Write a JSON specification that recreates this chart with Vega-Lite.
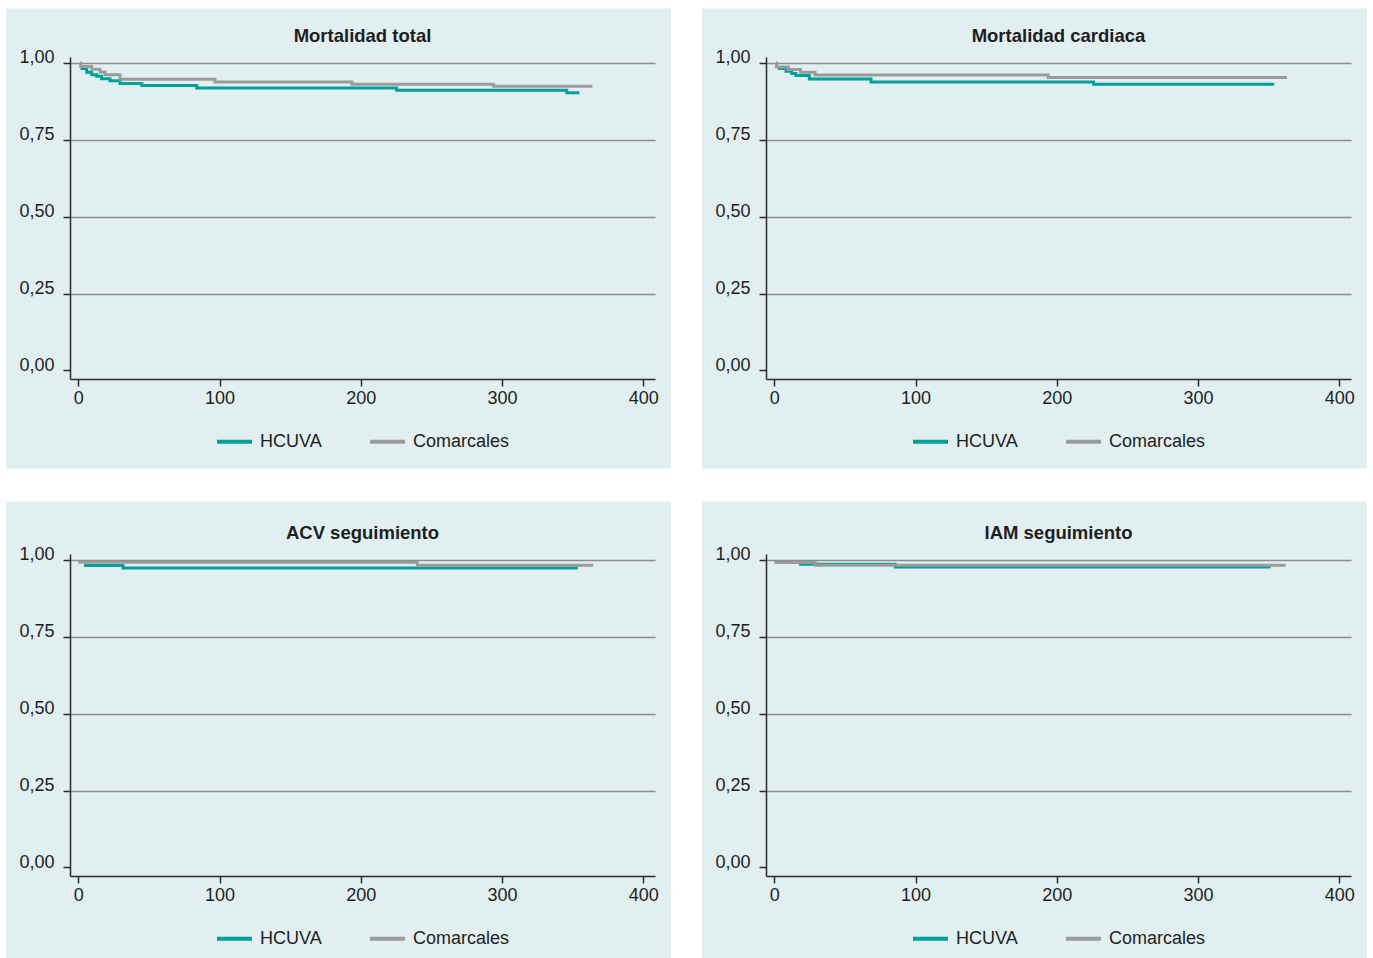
{
  "$schema": "https://vega.github.io/schema/vega-lite/v6.json",
  "background": "white",
  "padding": {"left": 6, "top": 8, "right": 6, "bottom": 0},
  "columns": 2,
  "spacing": {"row": 32, "column": 31},
  "resolve": {"scale": {"color": "independent"}, "legend": {"color": "independent"}},
  "concat": [
    {
      "width": 585, "height": 322,
      "title": {"text": "Mortalidad total", "frame": "group", "offset": -36.7},
      "layer": [
        {"data": {"values": [{}]}, "mark": {"type": "rect", "color": "#e1eff0"},
         "encoding": {"x": {"datum": -51.2, "type": "quantitative", "title": null}, "x2": {"datum": 419.6}, "y": {"datum": 1.1776, "type": "quantitative", "title": null}, "y2": {"datum": -0.319}}},
        {"data": {"values": [
          {"group": "HCUVA", "t": 1.5, "s": 0.982}, {"group": "HCUVA", "t": 5.9, "s": 0.970}, {"group": "HCUVA", "t": 9.5, "s": 0.962}, {"group": "HCUVA", "t": 13, "s": 0.957}, {"group": "HCUVA", "t": 16.5, "s": 0.949}, {"group": "HCUVA", "t": 22.4, "s": 0.942}, {"group": "HCUVA", "t": 29.5, "s": 0.933}, {"group": "HCUVA", "t": 44.9, "s": 0.927}, {"group": "HCUVA", "t": 83.8, "s": 0.919}, {"group": "HCUVA", "t": 225.4, "s": 0.911}, {"group": "HCUVA", "t": 345.8, "s": 0.903}, {"group": "HCUVA", "t": 354.7, "s": 0.903},
          {"group": "Comarcales", "t": 1.2, "s": 1.0}, {"group": "Comarcales", "t": 1.7, "s": 0.989}, {"group": "Comarcales", "t": 9.5, "s": 0.980}, {"group": "Comarcales", "t": 15.4, "s": 0.971}, {"group": "Comarcales", "t": 18.9, "s": 0.962}, {"group": "Comarcales", "t": 29.5, "s": 0.947}, {"group": "Comarcales", "t": 96.8, "s": 0.938}, {"group": "Comarcales", "t": 193.7, "s": 0.931}, {"group": "Comarcales", "t": 294, "s": 0.924}, {"group": "Comarcales", "t": 364, "s": 0.924}
        ]},
         "mark": {"type": "line", "interpolate": "step-after", "strokeWidth": 3},
         "encoding": {
           "x": {"field": "t", "type": "quantitative", "scale": {"domain": [-5.9, 408.3], "nice": false, "zero": false},
                 "axis": {"values": [0, 100, 200, 300, 400], "grid": false, "title": null, "labelFlush": false, "labelPadding": 3, "zindex": 1}},
           "y": {"field": "s", "type": "quantitative", "scale": {"domain": [-0.028, 1.0195], "nice": false, "zero": false},
                 "axis": {"values": [0, 0.25, 0.5, 0.75, 1], "grid": true, "title": null, "zindex": 1, "labelExpr": "replace(format(datum.value, '.2f'), '.', ',')", "labelBaseline": "alphabetic", "labelPadding": 9, "gridOpacity": {"condition": {"test": "datum.value === 0", "value": 0}, "value": 1}}},
           "color": {"field": "group", "type": "nominal", "scale": {"domain": ["HCUVA", "Comarcales"], "range": ["#00a19b", "#9b9b9b"]}, "legend": {"title": null}}
         }}
      ]
    },
    {
      "width": 585, "height": 322,
      "title": {"text": "Mortalidad cardiaca", "frame": "group", "offset": -36.7},
      "layer": [
        {"data": {"values": [{}]}, "mark": {"type": "rect", "color": "#e1eff0"},
         "encoding": {"x": {"datum": -51.2, "type": "quantitative", "title": null}, "x2": {"datum": 419.6}, "y": {"datum": 1.1776, "type": "quantitative", "title": null}, "y2": {"datum": -0.319}}},
        {"data": {"values": [
          {"group": "HCUVA", "t": 2.5, "s": 0.982}, {"group": "HCUVA", "t": 8.3, "s": 0.973}, {"group": "HCUVA", "t": 12.3, "s": 0.966}, {"group": "HCUVA", "t": 15.3, "s": 0.959}, {"group": "HCUVA", "t": 24.8, "s": 0.948}, {"group": "HCUVA", "t": 68.5, "s": 0.938}, {"group": "HCUVA", "t": 226, "s": 0.931}, {"group": "HCUVA", "t": 354, "s": 0.931},
          {"group": "Comarcales", "t": 1.2, "s": 1.0}, {"group": "Comarcales", "t": 1.5, "s": 0.987}, {"group": "Comarcales", "t": 9.9, "s": 0.979}, {"group": "Comarcales", "t": 18.6, "s": 0.970}, {"group": "Comarcales", "t": 28.8, "s": 0.961}, {"group": "Comarcales", "t": 194, "s": 0.953}, {"group": "Comarcales", "t": 363, "s": 0.953}
        ]},
         "mark": {"type": "line", "interpolate": "step-after", "strokeWidth": 3},
         "encoding": {
           "x": {"field": "t", "type": "quantitative", "scale": {"domain": [-5.9, 408.3], "nice": false, "zero": false},
                 "axis": {"values": [0, 100, 200, 300, 400], "grid": false, "title": null, "labelFlush": false, "labelPadding": 3, "zindex": 1}},
           "y": {"field": "s", "type": "quantitative", "scale": {"domain": [-0.028, 1.0195], "nice": false, "zero": false},
                 "axis": {"values": [0, 0.25, 0.5, 0.75, 1], "grid": true, "title": null, "zindex": 1, "labelExpr": "replace(format(datum.value, '.2f'), '.', ',')", "labelBaseline": "alphabetic", "labelPadding": 9, "gridOpacity": {"condition": {"test": "datum.value === 0", "value": 0}, "value": 1}}},
           "color": {"field": "group", "type": "nominal", "scale": {"domain": ["HCUVA", "Comarcales"], "range": ["#00a19b", "#9b9b9b"]}, "legend": {"title": null}}
         }}
      ]
    },
    {
      "width": 585, "height": 322,
      "title": {"text": "ACV seguimiento", "frame": "group", "offset": -40.7},
      "layer": [
        {"data": {"values": [{}]}, "mark": {"type": "rect", "color": "#e1eff0"},
         "encoding": {"x": {"datum": -51.2, "type": "quantitative", "title": null}, "x2": {"datum": 419.6}, "y": {"datum": 1.1906, "type": "quantitative", "title": null}, "y2": {"datum": -0.319}}},
        {"data": {"values": [
          {"group": "HCUVA", "t": 4, "s": 0.982}, {"group": "HCUVA", "t": 31.6, "s": 0.974}, {"group": "HCUVA", "t": 353.6, "s": 0.974},
          {"group": "Comarcales", "t": 0, "s": 0.993}, {"group": "Comarcales", "t": 240, "s": 0.983}, {"group": "Comarcales", "t": 364.5, "s": 0.983}
        ]},
         "mark": {"type": "line", "interpolate": "step-after", "strokeWidth": 3},
         "encoding": {
           "x": {"field": "t", "type": "quantitative", "scale": {"domain": [-5.9, 408.3], "nice": false, "zero": false},
                 "axis": {"values": [0, 100, 200, 300, 400], "grid": false, "title": null, "labelFlush": false, "labelPadding": 3, "zindex": 1}},
           "y": {"field": "s", "type": "quantitative", "scale": {"domain": [-0.028, 1.0195], "nice": false, "zero": false},
                 "axis": {"values": [0, 0.25, 0.5, 0.75, 1], "grid": true, "title": null, "zindex": 1, "labelExpr": "replace(format(datum.value, '.2f'), '.', ',')", "labelBaseline": "alphabetic", "labelPadding": 9, "gridOpacity": {"condition": {"test": "datum.value === 0", "value": 0}, "value": 1}}},
           "color": {"field": "group", "type": "nominal", "scale": {"domain": ["HCUVA", "Comarcales"], "range": ["#00a19b", "#9b9b9b"]}, "legend": {"title": null}}
         }}
      ]
    },
    {
      "width": 585, "height": 322,
      "title": {"text": "IAM seguimiento", "frame": "group", "offset": -40.7},
      "layer": [
        {"data": {"values": [{}]}, "mark": {"type": "rect", "color": "#e1eff0"},
         "encoding": {"x": {"datum": -51.2, "type": "quantitative", "title": null}, "x2": {"datum": 419.6}, "y": {"datum": 1.1906, "type": "quantitative", "title": null}, "y2": {"datum": -0.319}}},
        {"data": {"values": [
          {"group": "HCUVA", "t": 17.4, "s": 0.986}, {"group": "HCUVA", "t": 85.6, "s": 0.977}, {"group": "HCUVA", "t": 351.4, "s": 0.977},
          {"group": "Comarcales", "t": 0, "s": 0.9915}, {"group": "Comarcales", "t": 29, "s": 0.983}, {"group": "Comarcales", "t": 362, "s": 0.983}
        ]},
         "mark": {"type": "line", "interpolate": "step-after", "strokeWidth": 3},
         "encoding": {
           "x": {"field": "t", "type": "quantitative", "scale": {"domain": [-5.9, 408.3], "nice": false, "zero": false},
                 "axis": {"values": [0, 100, 200, 300, 400], "grid": false, "title": null, "labelFlush": false, "labelPadding": 3, "zindex": 1}},
           "y": {"field": "s", "type": "quantitative", "scale": {"domain": [-0.028, 1.0195], "nice": false, "zero": false},
                 "axis": {"values": [0, 0.25, 0.5, 0.75, 1], "grid": true, "title": null, "zindex": 1, "labelExpr": "replace(format(datum.value, '.2f'), '.', ',')", "labelBaseline": "alphabetic", "labelPadding": 9, "gridOpacity": {"condition": {"test": "datum.value === 0", "value": 0}, "value": 1}}},
           "color": {"field": "group", "type": "nominal", "scale": {"domain": ["HCUVA", "Comarcales"], "range": ["#00a19b", "#9b9b9b"]}, "legend": {"title": null}}
         }}
      ]
    }
  ],
  "config": {
    "font": "Liberation Sans",
    "view": {"stroke": null},
    "axis": {"labelFont": "Liberation Sans", "labelFontSize": 18, "labelColor": "#1e1e1e", "domainColor": "#2a2a2a", "domainWidth": 1.5, "tickColor": "#2a2a2a", "tickWidth": 1.5, "tickSize": 7, "gridColor": "#8e8e8e", "gridWidth": 1.3},
    "legend": {"orient": "bottom", "direction": "horizontal", "symbolType": "stroke", "symbolSize": 1225, "symbolStrokeWidth": 4, "labelFont": "Liberation Sans", "labelFontSize": 18, "labelColor": "#1e1e1e", "labelOffset": 6, "columnPadding": 40, "offset": 15, "padding": 0, "layout": {"bottom": {"anchor": "middle"}}},
    "title": {"font": "Liberation Sans", "fontSize": 18.5, "fontWeight": "bold", "color": "#1e1e1e", "anchor": "middle"}
  }
}
